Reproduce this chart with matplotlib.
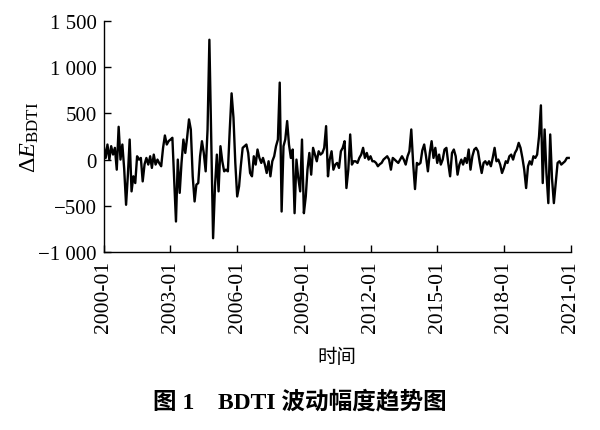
import numpy as np
import pandas as pd
import matplotlib
matplotlib.use('Agg')
import matplotlib.pyplot as plt
from matplotlib.ticker import FuncFormatter


# monthly BDTI fluctuation (ΔE), 2000-01 .. 2020-12
delta_e = [
	# 2000
	145, 18, 163, 0, 145, 55, 127, -109, 355, 0, 163, -100,
	# 2001
	-489, -150, 217, -344, -181, -254, 36, 0, 18, -236, -50, 18,
	# 2002
	-54, 36, -90, 54, -54, 0, -40, -72, 127, 261, 163, 200,
	# 2003
	217, 236, -200, -670, 0, -360, -36, 217, 72, 236, 435, 326,
	# 2004
	-181, -453, -272, -254, 36, 199, 72, -127, 326, 1297, 200, -851,
	# 2005
	-290, 54, -344, 145, -18, -127, -109, -127, 326, 717, 453, -36,
	# 2006
	-399, -290, -72, 127, 145, 163, 72, -145, -181, 36, -54, 109,
	# 2007
	18, -36, 18, -54, -145, -18, -181, -18, 36, 145, 217, 833,
	# 2008
	-562, 145, 217, 417, 163, 18, 109, -580, 0, -200, -344, 217,
	# 2009
	-580, -399, -109, 72, -163, 127, 54, -18, 90, 54, 72, 127,
	# 2010
	362, -181, 0, 90, -109, -54, -36, -90, 90, 127, 199, -308,
	# 2011
	-109, 272, -54, -18, -18, -36, 18, 54, 127, 18, 72, 0,
	# 2012
	36, -18, -18, -36, -72, -50, -36, 0, 18, 36, 0, -109,
	# 2013
	18, 0, -18, -36, 0, 36, 0, -54, 36, 90, 326, -36,
	# 2014
	-319, -36, -54, -36, 100, 163, 36, -127, 72, 199, 18, 127,
	# 2015
	-36, 54, -54, 0, 109, 127, -36, -181, 72, 109, 36, -163,
	# 2016
	-54, 0, -54, 18, -36, 109, -109, 36, 109, 127, 90, -36,
	# 2017
	-145, -36, -18, -54, -18, -72, 18, 127, -18, 0, -54, -145,
	# 2018
	-90, -18, -36, 36, 54, 0, 72, 109, 181, 127, 18, -109,
	# 2019
	-308, -72, -18, -54, 36, 18, 54, 250, 587, -254, 326, -145,
	# 2020
	-471, 272, -200, -471, -254, -36, -18, -54, -36, -18, 18, 18,
]
start_month = '2000-01-01'
x_tick_labels = ['2000-01', '2003-01', '2006-01', '2009-01',
	'2012-01', '2015-01', '2018-01', '2021-01']
y_ticks = [-1000, -500, 0, 500, 1000, 1500]

plt.rcParams['font.family'] = ['Liberation Serif', 'Noto Sans CJK SC']
plt.rcParams['mathtext.fontset'] = 'custom'
plt.rcParams['mathtext.rm'] = 'Liberation Serif'
plt.rcParams['mathtext.it'] = 'Liberation Serif:italic'


def thousands(v, pos):
	"""format like '1 500' / '−1 000'"""
	s = '{:,.0f}'.format(abs(v)).replace(',', ' ')
	return ('\u2212' + s) if v < 0 else s


def main():
	months = pd.date_range(start_month, periods=len(delta_e), freq='MS')

	fig = plt.figure(figsize=(6.0, 4.31), dpi=100)
	ax = fig.add_axes([0.173, 0.413, 0.778, 0.536])
	ax.plot(months, delta_e, color='black', lw=1.7)

	xt = pd.to_datetime(x_tick_labels)
	ax.set_xlim(xt[0], xt[-1])
	ax.set_xticks(xt)
	ax.set_xticklabels(x_tick_labels, rotation=90, fontsize=15.5)
	ax.set_ylim(-1000, 1500)
	ax.set_yticks(y_ticks)
	ax.yaxis.set_major_formatter(FuncFormatter(thousands))

	for side in ['top', 'right']:
		ax.spines[side].set_visible(False)
	ax.spines['left'].set_linewidth(1.0)
	ax.spines['bottom'].set_linewidth(1.0)
	ax.tick_params(direction='in', length=5, width=1.0)
	ax.tick_params(axis='x', pad=6)
	ax.tick_params(axis='y', pad=5, labelsize=15)

	ax.set_ylabel(r'$\Delta E_{\mathrm{BDTI}}$', fontsize=17.5)
	ax.yaxis.set_label_coords(-0.135, 0.5)
	ax.set_xlabel('时间', fontsize=14)
	ax.xaxis.set_label_coords(0.499, -0.415)

	fig.text(0.5, 0.068, '图 1\u3000BDTI 波动幅度趋势图', ha='center', va='center',
		fontsize=17, fontweight='bold')

	fig.savefig('out.png', dpi=100)


if __name__ == '__main__':
	main()
